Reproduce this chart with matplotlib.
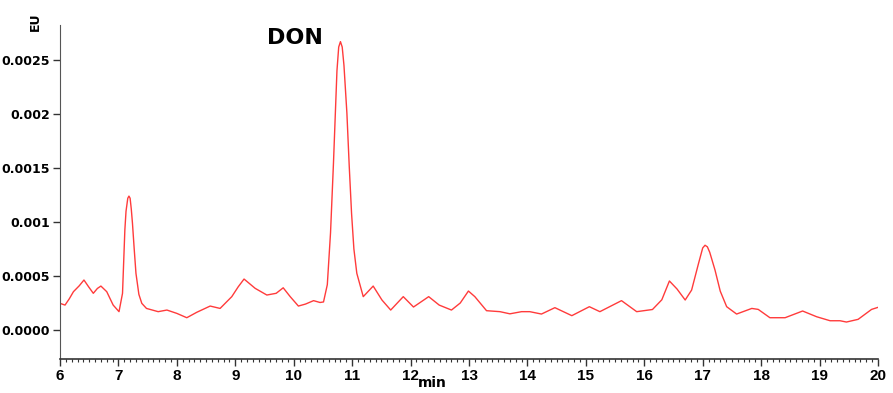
import matplotlib
matplotlib.use("Agg")
import matplotlib.pyplot as plt
from matplotlib.ticker import MultipleLocator

# Chromatogram trace (min, EU)
time_min = [6.0, 6.086, 6.16, 6.23, 6.33, 6.41, 6.49, 6.57, 6.64, 6.70, 6.80, 6.91, 7.01, 7.07, 7.11, 7.13, 7.16, 7.18, 7.20, 7.22, 7.24, 7.27, 7.30, 7.35,
            7.40, 7.48, 7.68, 7.83, 8.0, 8.17, 8.34, 8.57, 8.74, 8.94, 9.05, 9.15, 9.34, 9.54,
            9.70, 9.82, 9.94, 10.08, 10.20, 10.34, 10.45, 10.51, 10.575, 10.63, 10.68, 10.74, 10.77, 10.80,
            10.83, 10.86, 10.91, 10.95, 10.99, 11.03, 11.08, 11.19, 11.36, 11.51, 11.66, 11.875, 12.05, 12.31,
            12.49, 12.70, 12.85, 12.99, 13.10, 13.30, 13.53, 13.70, 13.90, 14.04, 14.24, 14.47,
            14.76, 15.06, 15.24, 15.61, 15.87, 16.14, 16.30, 16.43, 16.56, 16.70, 16.81, 16.93, 17.00, 17.04,
            17.08, 17.12, 17.21, 17.30, 17.41, 17.58, 17.84, 17.95, 18.15, 18.41, 18.71, 18.95, 19.18,
            19.35, 19.46, 19.66, 19.89, 20.0]
signal_eu = [0.000247, 0.000231, 0.000290, 0.000355, 0.000410, 0.000463, 0.000400, 0.000340, 0.000385, 0.000407, 0.000355, 0.000231, 0.000170, 0.000340, 0.000926, 0.00110, 0.00122, 0.00124, 0.00122, 0.00112, 0.00099, 0.00075, 0.000525, 0.000330,
             0.000247, 0.000200, 0.000170, 0.000185, 0.000154, 0.000114, 0.000164, 0.000222, 0.000200, 0.000309, 0.000400, 0.000472, 0.000386, 0.000324,
             0.000340, 0.000391, 0.000309, 0.000222, 0.000240, 0.000272, 0.000255, 0.000260, 0.000420, 0.00090, 0.00154, 0.00240, 0.00262, 0.00267,
             0.00262, 0.00245, 0.00201, 0.00152, 0.00108, 0.00075, 0.000525, 0.000309, 0.000407, 0.000278, 0.000185, 0.000309, 0.000213, 0.000309,
             0.000231, 0.000185, 0.000250, 0.000361, 0.000309, 0.000179, 0.000170, 0.000150, 0.000170, 0.000170, 0.000148, 0.000207,
             0.000133, 0.000216, 0.000170, 0.000272, 0.000170, 0.000190, 0.000280, 0.000454, 0.000380, 0.000278, 0.000370, 0.000620, 0.000760, 0.000785,
             0.000770, 0.000720, 0.000556, 0.000360, 0.000216, 0.000148, 0.000200, 0.000191, 0.000114, 0.000114, 0.000176, 0.000123, 0.000086,
             0.000086, 0.000074, 0.000099, 0.000191, 0.000210]

ytick_values = [0.0, 0.0005, 0.001, 0.0015, 0.002, 0.0025]
ytick_labels = ["0.0000", "0.0005", "0.001", "0.0015", "0.002", "0.0025"]
xtick_values = list(range(6, 21))
peak_label = "DON"

fig = plt.figure(figsize=(8.93, 3.93), dpi=100)
ax = fig.add_axes([60 / 893, 1 - 359.3 / 393, 818 / 893, (359.3 - 25) / 393])
ax.plot(time_min, signal_eu, color="#ff3b3b", lw=1.0)

ax.set_xlim(6, 20)
ax.set_ylim(-0.000271, 0.002824)
ax.set_xticks(xtick_values)
ax.set_xticklabels([str(v) for v in xtick_values], fontsize=11, fontweight="bold",
                   family="Liberation Sans")
ax.xaxis.set_minor_locator(MultipleLocator(0.1))
ax.set_yticks(ytick_values)
ax.set_yticklabels(ytick_labels, fontsize=9, fontweight="bold")

for s in ["top", "right"]:
    ax.spines[s].set_visible(False)
ax.spines["left"].set_color("#555555")
ax.spines["bottom"].set_color("#333333")
ax.spines["bottom"].set_linewidth(1.2)
ax.tick_params(axis="x", which="major", length=5, width=1, color="#333333", pad=2)
ax.tick_params(axis="x", which="minor", length=2, width=0.8, color="#333333")
ax.tick_params(axis="y", which="major", length=5, width=1, color="#333333", pad=2)

fig.text(432 / 893, 1 - 383 / 393, "min", ha="center", va="center", fontsize=10,
         fontweight="bold")
fig.text(35 / 893, 1 - 22 / 393, "EU", ha="center", va="center", rotation=90,
         fontsize=9, fontweight="bold")
ax.text(9.55, 0.002700, peak_label, ha="left", va="center", fontsize=16, fontweight="bold")

fig.savefig("out.png", dpi=100)
